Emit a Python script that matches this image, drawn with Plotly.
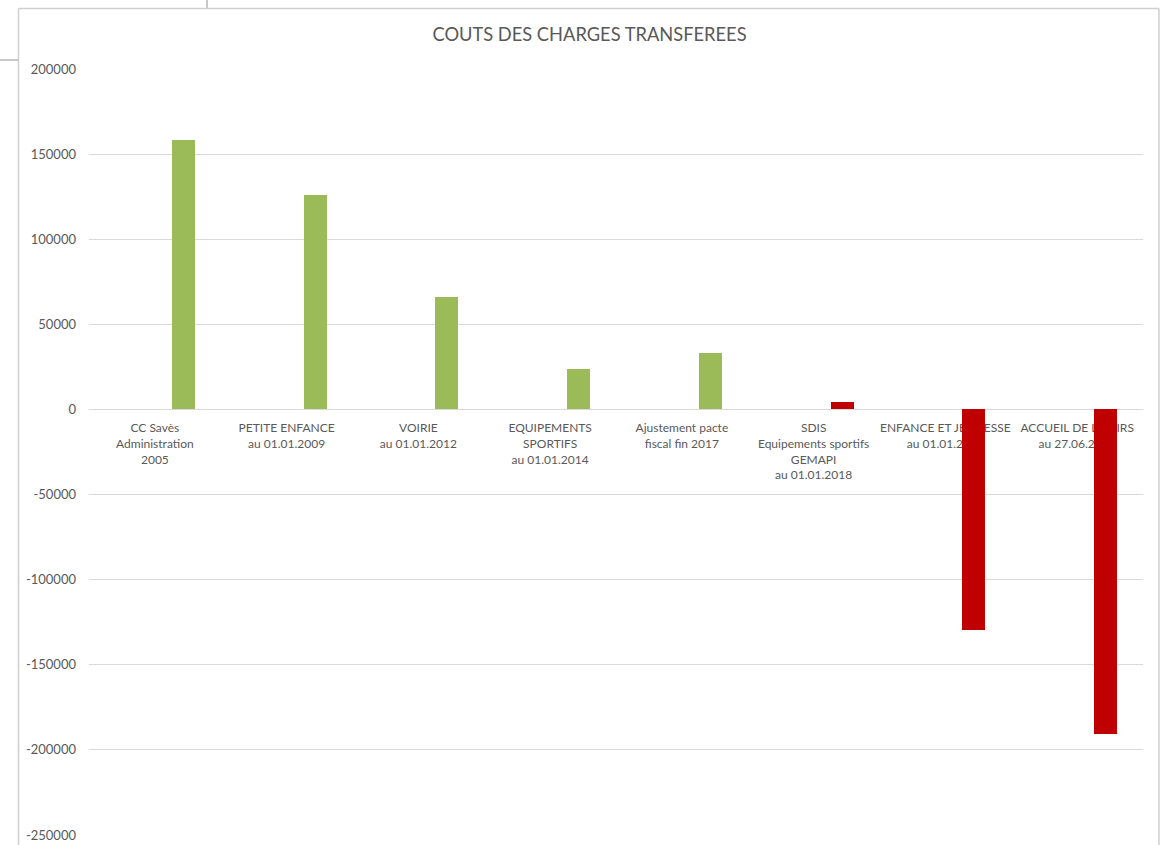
import plotly.graph_objects as go

categories = [
    "CC Savès<br>Administration<br>2005",
    "PETITE ENFANCE<br>au 01.01.2009",
    "VOIRIE<br>au 01.01.2012",
    "EQUIPEMENTS<br>SPORTIFS<br>au 01.01.2014",
    "Ajustement pacte<br>fiscal fin 2017",
    "SDIS<br>Equipements sportifs<br>GEMAPI<br>au 01.01.2018",
    "ENFANCE ET JEUNESSE<br>au 01.01.2018",
    "ACCUEIL DE LOISIRS<br>au 27.06.2024",
]
values = [158000, 126000, 66000, 24000, 33000, 4500, -129500, -190500]
bar_colors = ["#9BBB59", "#9BBB59", "#9BBB59", "#9BBB59", "#9BBB59",
              "#C00000", "#C00000", "#C00000"]
y_tickvals = [200000, 150000, 100000, 50000, 0, -50000, -100000,
              -150000, -200000, -250000]
y_ticktext = ["200000", "150000", "100000", "50000", "0", "-50000",
              "-100000", "-150000", "-200000", "-250000"]

W, H = 1162, 845
ML, MR, MT, MB = 89, 19, 69, 10
PW, PH = W - ML - MR, H - MT - MB
YMIN, YMAX = -250000, 200000

def px_x(p):
    return (p - ML) / PW

def px_y(p):
    return 1 - (p - MT) / PH

TXT = "#595959"
GRID = "#D9D9D9"
FONT = "Lato"

fig = go.Figure()
fig.add_trace(go.Bar(
    x=list(range(len(categories))),
    y=values,
    marker=dict(color=bar_colors, line=dict(width=0)),
    width=0.175,
    offset=0.129,
    hoverinfo="y",
))

zero_pos = (0 - YMIN) / (YMAX - YMIN)

fig.update_layout(
    width=W, height=H,
    margin=dict(l=ML, r=MR, t=MT, b=MB, autoexpand=False),
    paper_bgcolor="white",
    plot_bgcolor="white",
    showlegend=False,
    font=dict(family=FONT, color=TXT, size=12),
    title=dict(
        text="COUTS DES CHARGES TRANSFEREES",
        x=589.5 / W, xref="container", xanchor="center",
        y=1 - 35 / H, yref="container", yanchor="middle",
        font=dict(family=FONT, size=18.3, color=TXT),
    ),
    xaxis=dict(
        tickmode="array",
        tickvals=list(range(len(categories))),
        ticktext=categories,
        range=[-0.5, len(categories) - 0.5],
        anchor="free",
        position=zero_pos,
        automargin=False,
        showgrid=False,
        zeroline=False,
        showline=False,
        ticks="",
        tickangle=0,
        ticklabelstandoff=10,
        layer="below traces",
        tickfont=dict(family=FONT, size=12, color=TXT),
    ),
    yaxis=dict(
        range=[YMIN, YMAX],
        tickmode="array",
        tickvals=y_tickvals,
        ticktext=y_ticktext,
        automargin=False,
        showgrid=True,
        gridcolor=GRID,
        gridwidth=1.3,
        zeroline=True,
        zerolinecolor=GRID,
        zerolinewidth=1.3,
        showline=False,
        ticks="",
        ticklabelstandoff=12,
        layer="below traces",
        tickfont=dict(family=FONT, size=13, color=TXT),
    ),
    bargap=0,
)

line_col = "#CFCFCF"
shapes = [
    dict(type="line", xref="paper", yref="paper",
         x0=px_x(18.5), x1=px_x(18.5), y0=px_y(8.5), y1=px_y(H + 5),
         line=dict(color=line_col, width=1.5)),
    dict(type="line", xref="paper", yref="paper",
         x0=px_x(18.5), x1=px_x(1159), y0=px_y(8.5), y1=px_y(8.5),
         line=dict(color=line_col, width=1.5)),
    dict(type="line", xref="paper", yref="paper",
         x0=px_x(1159), x1=px_x(1159), y0=px_y(8.5), y1=px_y(H + 5),
         line=dict(color=line_col, width=1.5)),
    dict(type="line", xref="paper", yref="paper",
         x0=px_x(207), x1=px_x(207), y0=px_y(-2), y1=px_y(8.5),
         line=dict(color="#C8C8C8", width=2)),
    dict(type="line", xref="paper", yref="paper",
         x0=px_x(-2), x1=px_x(18.5), y0=px_y(60), y1=px_y(60),
         line=dict(color="#C8C8C8", width=2)),
]
fig.update_layout(shapes=shapes)

fig.write_html("out.html")
